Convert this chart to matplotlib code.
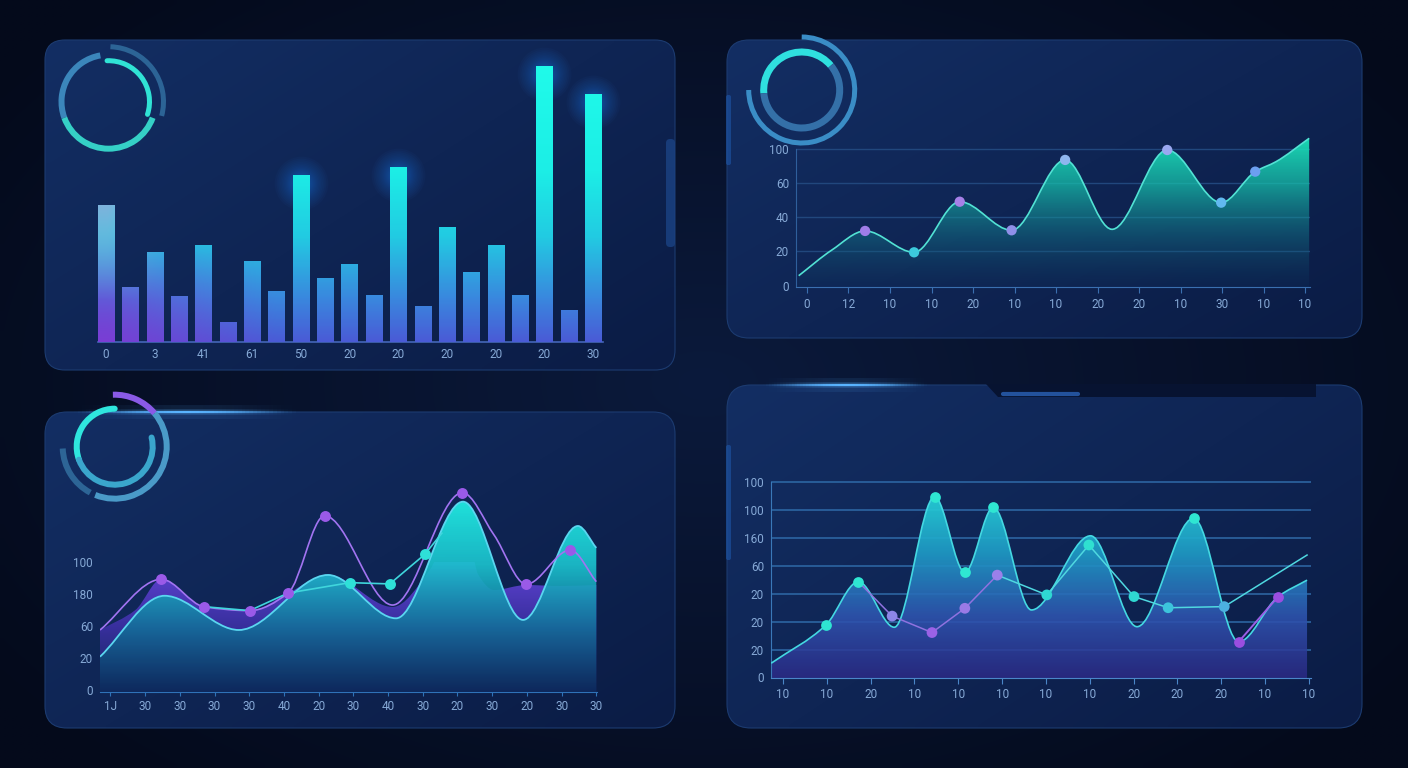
"""Neon dashboard: four chart cards (bars, area, twin waves, peaks) on navy."""

import matplotlib

matplotlib.use("Agg")

import matplotlib.pyplot as plt
import numpy as np
from matplotlib.colors import LinearSegmentedColormap, to_rgb
from matplotlib.patches import Arc, FancyBboxPatch, PathPatch, Polygon
from matplotlib.path import Path

W, H = 1408, 768
plt.rcParams["font.family"] = ["Roboto", "DejaVu Sans"]
TICK = "#86a9d6"

# ---- card 1: bars ----
bar_values = [49.6, 19.9, 32.6, 16.7, 35.1, 7.2, 29.3, 18.5, 60.5, 23.2, 28.3,
              17.0, 63.4, 13.0, 41.7, 25.4, 35.1, 17.0, 100.0, 11.6, 89.9]
bar_labels = ["0", "3", "41", "61", "50", "20", "20", "20", "20", "20", "30"]

# ---- card 2: area ----
area_x = [-0.20, 0.60, 1.40, 2.58, 3.68, 4.93, 6.22, 7.35, 8.68, 9.98, 10.80, 11.30, 12.10]
area_y = [7.2, 26.1, 40.1, 24.4, 61.6, 40.6, 92.3, 41.3, 99.6, 60.9, 83.7, 91.0, 108.2]
area_marks = [2, 3, 4, 5, 6, 8, 9, 10]
area_mark_colors = ["#a07de8", "#3cc9dc", "#a680e8", "#8f8fe8", "#8fb6ee",
                    "#9aa8f0", "#62b9f0", "#6c9ff0"]
area_xlabels = ["0", "12", "10", "10", "20", "10", "10", "20", "20", "10", "30", "10", "10"]
area_ylabels = ["0", "20", "40", "60", "100"]

# ---- card 3: twin waves ----
violet_area_x = [-0.30, 0.72, 1.47, 2.69, 4.01, 5.12, 6.27, 8.13, 9.20, 10.14, 10.60, 11.05, 11.97, 12.95, 14.0]
violet_area_y = [37.5, 50.0, 69.4, 51.9, 49.4, 60.6, 71.9, 51.9, 75.0, 116.0, 72.0, 62.5, 65.6, 65.0, 65.6]
teal_area_x = [-0.30, 1.56, 3.70, 6.27, 8.23, 10.16, 11.89, 13.47, 14.0]
teal_area_y = [20.8, 58.9, 37.5, 71.9, 44.8, 117.7, 43.8, 102.5, 88.8]
violet_line_x = [-0.30, 1.47, 2.69, 4.01, 5.12, 6.17, 8.13, 10.14, 11.05, 11.98, 13.25, 14.0]
violet_line_y = [37.5, 69.2, 52.1, 49.6, 60.6, 108.9, 53.1, 123.3, 97.0, 66.1, 87.5, 67.7]
violet_marks = [1, 2, 3, 4, 5, 7, 9, 10]
cyan_line_x = [2.69, 4.01, 5.12, 6.90, 8.05, 9.06, 9.55]
cyan_line_y = [52.1, 49.6, 60.6, 67.1, 66.3, 84.8, 98.0]
cyan_marks = [3, 4, 5]
wave_xlabels = ["1J", "30", "30", "30", "30", "40", "20", "30", "40", "30", "20", "30", "20", "30", "30"]
wave_ylabels = ["0", "20", "60", "180", "100"]

# ---- card 4: peaks ----
peaks_x = [-0.27, 0.98, 1.72, 2.54, 3.46, 4.15, 4.80, 5.67, 7.02, 8.08, 9.37, 10.40, 11.30, 11.96]
peaks_y = [0.51, 1.88, 3.43, 1.80, 6.48, 3.77, 6.10, 2.42, 5.08, 1.82, 5.71, 1.28, 2.90, 3.49]
peak_marks = [1, 2, 4, 5, 6, 10]
teal_line_x = [4.89, 6.02, 6.98, 8.01, 8.79, 10.07, 11.96]
teal_line_y = [3.67, 2.96, 4.75, 2.90, 2.50, 2.54, 4.39]
teal_line_marks = [1, 2, 3, 4, 5]
lilac_line_x = [1.72, 2.49, 3.40, 4.15, 4.89]
lilac_line_y = [3.43, 2.20, 1.61, 2.48, 3.67]
lilac_marks = [1, 2, 3, 4]
lilac_colors = ["#8c86e8", "#9a62e6", "#9a7ae6", "#9a80ea"]
tail_x = [10.40, 11.30]
tail_y = [1.28, 2.90]
peaks_xlabels = ["10", "10", "20", "10", "10", "10", "10", "10", "20", "20", "20", "10", "10"]
peaks_ylabels = ["0", "20", "20", "20", "60", "160", "100", "100"]


def mono_slopes(x, y):
    h = np.diff(x)
    d = np.diff(y) / h
    m = np.zeros_like(y)
    m[0], m[-1] = d[0], d[-1]
    for i in range(1, len(x) - 1):
        if d[i - 1] * d[i] > 0:
            w1, w2 = 2 * h[i] + h[i - 1], h[i] + 2 * h[i - 1]
            m[i] = (w1 + w2) / (w1 / d[i - 1] + w2 / d[i])
    return m


def curve_path(x, y, base=None):
    x = np.asarray(x, float)
    y = np.asarray(y, float)
    m = mono_slopes(x, y)
    h = np.diff(x)
    verts, codes = [(x[0], y[0])], [Path.MOVETO]
    for i in range(len(x) - 1):
        verts += [(x[i] + h[i] / 3, y[i] + m[i] * h[i] / 3),
                  (x[i + 1] - h[i] / 3, y[i + 1] - m[i + 1] * h[i] / 3),
                  (x[i + 1], y[i + 1])]
        codes += [Path.CURVE4] * 3
    if base is not None:
        verts = [(x[0], base)] + verts + [(x[-1], base), (x[0], base)]
        codes = [Path.MOVETO, Path.LINETO] + codes[1:] + [Path.LINETO, Path.CLOSEPOLY]
    return Path(verts, codes)


def gradient_fill(ax, path, stops, y0, y1, a0, a1, z):
    cmap = LinearSegmentedColormap.from_list("", stops)
    t = np.linspace(1, 0, 256)
    rgba = cmap(t)
    rgba[:, 3] = a0 + (a1 - a0) * t
    xl = ax.get_xlim()
    im = ax.imshow(rgba[:, None, :], extent=[xl[0], xl[1], y0, y1], origin="upper",
                   aspect="auto", interpolation="bilinear", zorder=z)
    clip = PathPatch(path, transform=ax.transData, fc="none", ec="none")
    ax.add_patch(clip)
    im.set_clip_path(clip)


def add_ax(x0, y0, x1, y1):
    ax = fig.add_axes([x0 / W, 1 - y1 / H, (x1 - x0) / W, (y1 - y0) / H])
    ax.set_facecolor("none")
    for s in ax.spines.values():
        s.set_visible(False)
    ax.set_autoscale_on(False)
    ax.tick_params(colors=TICK, labelsize=8.5, length=0)
    return ax


def mix(c0, c1, t):
    c0, c1 = np.array(to_rgb(c0)), np.array(to_rgb(c1))
    return c0 + (c1 - c0) * np.clip(t, 0, 1)[..., None]


fig = plt.figure(figsize=(W / 100, H / 100), dpi=100)

# ---- backdrop, cards, rings ----
bg = fig.add_axes([0, 0, 1, 1])
bg.set_xlim(0, W)
bg.set_ylim(0, H)
bg.axis("off")
gx, gy = np.meshgrid(np.linspace(0, 1, 176), np.linspace(0, 1, 96))
dist = np.sqrt(((gx - 0.5) / 0.62) ** 2 + ((gy - 0.5) / 0.7) ** 2)
bg.imshow(mix("#0b1a3c", "#040a1b", dist), extent=[0, W, 0, H], aspect="auto",
          interpolation="bilinear", zorder=0)

cards = [(45, 40, 675, 370, 20), (727, 40, 1362, 338, 22),
         (45, 412, 675, 728, 22), (727, 385, 1362, 728, 24)]
for x0, y0, x1, y1, r in cards:
    box = FancyBboxPatch((x0, H - y1), x1 - x0, y1 - y0,
                         boxstyle=f"round,pad=0,rounding_size={r}",
                         fc="none", ec="#1c3b70", lw=0.8, zorder=2)
    bg.add_patch(box)
    u, v = np.meshgrid(np.linspace(0, 1, 64), np.linspace(0, 1, 64))
    im = bg.imshow(mix("#132e63", "#0b1c45", 0.55 * u + 0.45 * v),
                   extent=[x0, x1, H - y1, H - y0], aspect="auto",
                   interpolation="bilinear", zorder=1)
    im.set_clip_path(box)

# small decorations on the card edges
bg.add_patch(FancyBboxPatch((666, H - 247), 9, 108, boxstyle="round,pad=0,rounding_size=4",
                            fc="#1b4384", ec="none", alpha=0.8, zorder=3))
for yy0, yy1 in [(95, 165), (445, 560)]:
    bg.add_patch(FancyBboxPatch((726, H - yy1), 5, yy1 - yy0, boxstyle="round,pad=0,rounding_size=2",
                                fc="#1f5bb0", ec="none", alpha=0.55, zorder=3))
bg.add_patch(Polygon([(986, H - 384), (998, H - 397), (1316, H - 397), (1316, H - 384)],
                     closed=True, fc="#071331", ec="none", zorder=3))
bg.plot([1003, 1078], [H - 394, H - 394], color="#2b63b8", lw=3, alpha=0.8,
        solid_capstyle="round", zorder=4)


def streak(xa, xb, yy):
    xs = np.linspace(xa, xb, 60)
    prof = np.sin(np.linspace(0, np.pi, 60)) ** 1.5
    for lw, a in [(10, 0.1), (4, 0.25), (1.6, 1.0)]:
        for k in range(59):
            bg.plot(xs[k:k + 2], [H - yy] * 2, color="#5ab4ff", lw=lw,
                    alpha=a * prof[k], solid_capstyle="butt", zorder=4)


streak(70, 300, 412)
streak(760, 930, 385)


def ring(cx, cy, r, t1, t2, color, px, cap="butt", z=6):
    a = Arc((cx, H - cy), 2 * r, 2 * r, theta1=t1, theta2=t2, color=color,
            lw=px * 0.72, zorder=z)
    a.set_capstyle(cap)
    bg.add_patch(a)


# card 1 ring
ring(108.5, 101.7, 47, 100, 200, "#3b86bb", 6)
ring(108.5, 101.7, 47, 200, 340, "#35d0c6", 6)
ring(108.5, 101.7, 41, -18, 92, "#30e3d5", 5, "round")
ring(108.5, 101.7, 55, -15, 88, "#2c6496", 5)
# card 2 ring
ring(801.7, 90, 38, 40, 185, "#2fe0df", 7)
ring(801.7, 90, 38, 185, 400, "#3470a8", 7)
ring(801.7, 90, 53, -180, 90, "#3a8dc6", 5)
# card 3 ring
ring(114.7, 446.7, 38, 90, 200, "#2fe6de", 6, "round")
ring(114.7, 446.7, 38, 200, 374, "#3aa6cc", 6, "round")
ring(114.7, 446.7, 52, 40, 92, "#8a5ae6", 6)
ring(114.7, 446.7, 52, -112, 40, "#4a9ac8", 6)
ring(114.7, 446.7, 52, 182, 242, "#2d6596", 6)

# ---- card 1: bars ----
ax1 = add_ax(98, 40, 603, 342)
ax1.set_xlim(-0.33, 20.41)
ax1.set_ylim(0, 109.4)
bw = 0.66
idx = np.arange(len(bar_values))
bars = ax1.bar(idx, bar_values, width=bw, color="none", edgecolor="none")
bx, by = np.meshgrid(np.linspace(-0.33, 20.41, 240), np.linspace(109.4, 0, 240))
bar_cmap = LinearSegmentedColormap.from_list(
    "bars", [(0, "#4a5bd6"), (0.15, "#3a86de"), (0.38, "#22cbe2"),
             (0.62, "#1ceee6"), (1, "#20fbea")])
bar_rgb = bar_cmap(np.clip(by / 100, 0, 1))[..., :3]
wgt = (np.clip(1 - bx / 7, 0, 1) * np.clip(1 - by / 40, 0, 1))[..., None]
bar_rgb = bar_rgb * (1 - wgt) + np.array(to_rgb("#7a3ed4")) * wgt
lav = (np.clip(1 - bx / 2.5, 0, 1) * np.clip((by - 15) / 35, 0, 1))[..., None]
bar_rgb = bar_rgb * (1 - lav) + np.array(to_rgb("#7fb2dc")) * lav
for b in bars:
    im = ax1.imshow(bar_rgb, extent=[-0.33, 20.41, 0, 109.4], aspect="auto",
                    interpolation="bilinear", zorder=3)
    im.set_clip_path(b)
tall = [i for i, v in enumerate(bar_values) if v > 55]
for s in np.geomspace(20, 1500, 30):
    ax1.scatter(tall, [bar_values[i] - 3 for i in tall], s=s, color="#2f8cff",
                alpha=0.03, lw=0, zorder=2, clip_on=False)
ax1.spines["bottom"].set_visible(True)
ax1.spines["bottom"].set_color("#4466b8")
ax1.spines["bottom"].set_linewidth(1.2)
ax1.set_yticks([])
ax1.set_xticks(idx[::2])
ax1.set_xticklabels(bar_labels)
ax1.tick_params(axis="x", pad=4)

# ---- card 2: area ----
ax2 = add_ax(796, 130, 1310, 287)
ax2.set_xlim(-0.265, 12.12)
ax2.set_ylim(-1.1, 114.3)
for g in [25, 50, 75, 100]:
    ax2.axhline(g, color="#21477d", lw=1, zorder=1)
gradient_fill(ax2, curve_path(area_x, area_y, base=-1.1),
              ["#0e2f5c", "#137488", "#17c2ad", "#1ce8bc"], -1.1, 110, 0.25, 0.95, 2)
ax2.add_patch(PathPatch(curve_path(area_x, area_y), fc="none", ec="#52e2d4", lw=1.2, zorder=3))
ax2.scatter([area_x[i] for i in area_marks], [area_y[i] for i in area_marks],
            s=55, c=area_mark_colors, lw=0, zorder=4)
ax2.spines["left"].set_visible(True)
ax2.spines["left"].set_color("#2f5f9c")
ax2.spines["left"].set_bounds(-1.1, 100)
ax2.spines["bottom"].set_visible(True)
ax2.spines["bottom"].set_color("#3a6fb0")
ax2.set_yticks([0, 25, 50, 75, 100])
ax2.set_yticklabels(area_ylabels)
ax2.set_xticks(range(len(area_xlabels)))
ax2.set_xticklabels(area_xlabels)
ax2.tick_params(axis="x", length=4, color="#3a6fb0", pad=4)
ax2.tick_params(axis="y", pad=5)

# ---- card 3: twin waves ----
ax3 = add_ax(100, 470, 597, 692)
ax3.set_xlim(-0.30, 14.02)
ax3.set_ylim(-1.25, 137.5)
gradient_fill(ax3, curve_path(violet_area_x, violet_area_y, base=-1.25),
              ["#1c2468", "#4332b0", "#6446da"], -1.25, 80, 0.6, 1.0, 2)
gradient_fill(ax3, curve_path(teal_area_x, teal_area_y, base=-1.25),
              ["#0c2a5c", "#13709a", "#1bc0cc", "#20e2dc"], -1.25, 118, 0.8, 1.0, 3)
ax3.add_patch(PathPatch(curve_path(teal_area_x, teal_area_y), fc="none", ec="#5ad6f0", lw=1.3, zorder=4))
ax3.add_patch(PathPatch(curve_path(violet_line_x, violet_line_y), fc="none", ec="#a274f2", lw=1.2, zorder=5))
ax3.plot(cyan_line_x, cyan_line_y, color="#3fd6dc", lw=1.2, zorder=5)
ax3.scatter([violet_line_x[i] for i in violet_marks], [violet_line_y[i] for i in violet_marks],
            s=62, color="#9a5ae8", lw=0, zorder=6)
ax3.scatter([cyan_line_x[i] for i in cyan_marks], [cyan_line_y[i] for i in cyan_marks],
            s=62, color="#2ee0d8", lw=0, zorder=6)
ax3.spines["bottom"].set_visible(True)
ax3.spines["bottom"].set_color("#2f72b8")
ax3.set_yticks([0, 20, 40, 60, 80])
ax3.set_yticklabels(wave_ylabels)
ax3.set_xticks(range(len(wave_xlabels)))
ax3.set_xticklabels(wave_xlabels)
ax3.tick_params(axis="x", length=3, color="#2f72b8", pad=3)
ax3.tick_params(axis="y", pad=5)

# ---- card 4: peaks ----
ax4 = add_ax(771, 470, 1311, 678)
ax4.set_xlim(-0.274, 12.05)
ax4.set_ylim(-0.02, 7.44)
for g in range(1, 8):
    ax4.axhline(g, color="#2f6aa8", lw=1.1, zorder=1)
gradient_fill(ax4, curve_path(peaks_x, peaks_y, base=-0.02),
              ["#2c2a86", "#2f55b0", "#1f9ac6", "#26d4d8"], -0.02, 6.6, 0.85, 0.95, 2)
ax4.add_patch(PathPatch(curve_path(peaks_x, peaks_y), fc="none", ec="#44d8e2", lw=1.2, zorder=3))
ax4.plot(teal_line_x, teal_line_y, color="#4fd8e0", lw=1.1, zorder=4)
ax4.plot(lilac_line_x, lilac_line_y, color="#8f72e0", lw=1.1, zorder=4)
ax4.plot(tail_x, tail_y, color="#9a5ee6", lw=1.4, zorder=4)
ax4.scatter([peaks_x[i] for i in peak_marks], [peaks_y[i] for i in peak_marks],
            s=60, color="#2fe6d2", lw=0, zorder=5)
ax4.scatter([teal_line_x[i] for i in teal_line_marks], [teal_line_y[i] for i in teal_line_marks],
            s=60, c=["#2fd8d2", "#2fe0d0", "#2fd8d2", "#3cc4dc", "#4cb0e0"], lw=0, zorder=5)
ax4.scatter([lilac_line_x[i] for i in lilac_marks], [lilac_line_y[i] for i in lilac_marks],
            s=60, c=lilac_colors, lw=0, zorder=5)
ax4.scatter(tail_x, tail_y, s=60, color="#9a4ee0", lw=0, zorder=5)
ax4.spines["left"].set_visible(True)
ax4.spines["left"].set_color("#3a78b8")
ax4.spines["left"].set_bounds(-0.02, 7)
ax4.spines["bottom"].set_visible(True)
ax4.spines["bottom"].set_color("#4a86c8")
ax4.set_yticks(range(8))
ax4.set_yticklabels(peaks_ylabels)
ax4.set_xticks(range(len(peaks_xlabels)))
ax4.set_xticklabels(peaks_xlabels)
ax4.tick_params(axis="x", length=4, color="#4a86c8", pad=3)
ax4.tick_params(axis="y", pad=5)

fig.savefig("out.png", dpi=100, facecolor="#060f24")
